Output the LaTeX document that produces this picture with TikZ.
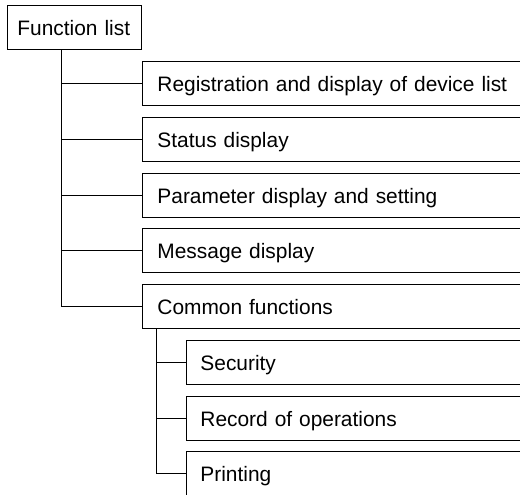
\documentclass[tikz,border=0pt]{standalone}
\usepackage{fontspec}
\setmainfont{Liberation Sans}

\begin{document}
\begin{tikzpicture}[x=1pt,y=-1pt,line width=0.9pt,
  box/.style={draw,anchor=north west,minimum height=44pt,align=left,
    text height=15.5pt,text depth=0pt,font=\fontsize{20.9}{25}\selectfont},
  lvla/.style={box,text width=400pt,inner xsep=15pt},
  lvlb/.style={box,text width=400pt,inner xsep=14pt}]
\useasboundingbox (0,0) rectangle (520,495);
\node[box,text width=114pt,inner xsep=10pt] (root) at (7,5) {Function list};
\node[lvla] (reg) at (142,61) {Registration and display of device list};
\node[lvla] (status) at (142,117) {Status display};
\node[lvla] (param) at (142,173) {Parameter display and setting};
\node[lvla] (msg) at (142,228) {Message display};
\node[lvla] (common) at (142,284) {Common functions};
\node[lvlb] (sec) at (186,340) {Security};
\node[lvlb] (rec) at (186,396) {Record of operations};
\node[lvlb] (print) at (186,451) {Printing};
\coordinate (ta) at (61,0);
\coordinate (tb) at (156,0);
\draw (ta |- root.south) |- (common.west);
\foreach \n in {reg,status,param,msg}
  \draw (ta |- \n.west) -- (\n.west);
\draw (tb |- common.south) |- (print.west);
\foreach \n in {sec,rec}
  \draw (tb |- \n.west) -- (\n.west);
\end{tikzpicture}
\end{document}
